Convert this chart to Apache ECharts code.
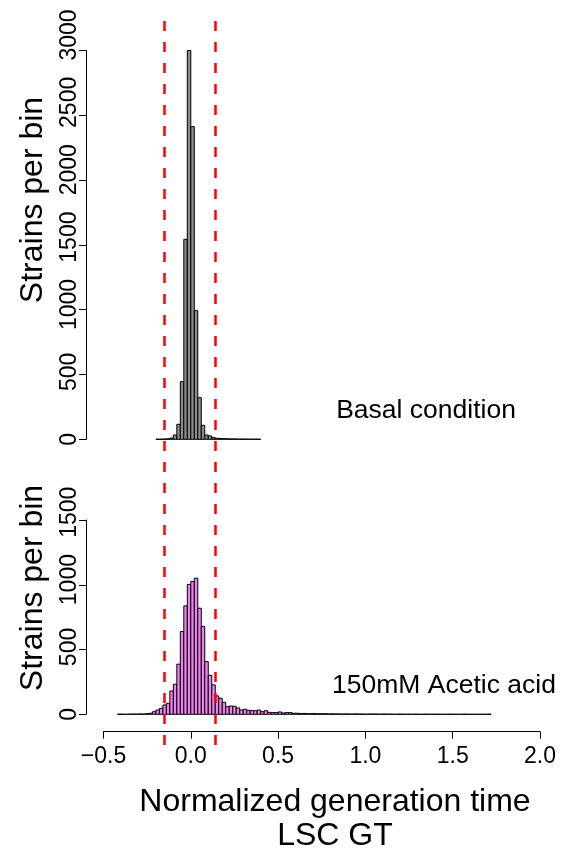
<!DOCTYPE html>
<html>
<head>
<meta charset="utf-8">
<script src="https://cdn.jsdelivr.net/npm/echarts@6/dist/echarts.min.js"></script>
<style>
  html, body { margin: 0; padding: 0; background: #fff; }
  #chart { width: 563px; height: 852px; }
</style>
</head>
<body>
<div id="chart"></div>
<script>
// Histogram bins: width 0.02 in normalized generation time
const binWidth = 0.02;

// Basal condition: bins start at -0.20
const basalStart = -0.20;
const basalCounts = [
  1, 1, 2, 4, 10, 33, 116, 445, 1543, 3000,
  2413, 993, 321, 108, 33, 26, 13, 8, 6, 5,
  4, 3, 3, 2, 2, 2, 1, 1, 1, 1
];

// 150mM acetic acid: bins start at -0.42
const aceticStart = -0.42;
const aceticCounts = [
  1, 1, 0, 1, 2, 1, 3, 2, 5, 8,
  20, 33, 46, 72, 85, 180, 232, 387, 639, 837,
  1002, 1025, 1051, 819, 678, 407, 301, 227, 142, 124,
  93, 59, 64, 62, 49, 33, 39, 31, 28, 28,
  33, 20, 28, 15, 13, 13, 18, 10, 13, 13,
  8, 8, 6, 7, 5, 5, 6, 4, 4, 5,
  3, 4, 3, 3, 2, 3, 2, 2, 3, 2,
  2, 1, 2, 2, 1, 1, 2, 1, 1, 0,
  1, 1, 0, 1, 0, 1, 0, 0, 1, 0,
  0, 1, 0, 0, 0, 1, 0, 0, 0, 1,
  0, 0, 0, 0, 0, 0, 1
];

// Cut-off thresholds (red dashed lines)
const thresholds = [-0.15, 0.14];

// Axis ticks
const xTicks = { min: -0.5, max: 2.0, interval: 0.5 };
const basalTicks = { min: 0, max: 3000, interval: 500 };
const aceticTicks = { min: 0, max: 1500, interval: 500 };

const panelLabels = ['Basal condition', '150mM Acetic acid'];
const yTitle = 'Strains per bin';
const xTitle = 'Normalized generation time\nLSC GT';

function toBins(start, counts) {
  return counts.map((c, i) => {
    const x0 = +(start + i * binWidth).toFixed(4);
    return [x0, +(x0 + binWidth).toFixed(4), c];
  });
}

function histRenderer(fill) {
  return function (params, api) {
    const top = api.coord([api.value(0), api.value(2)]);
    const bot = api.coord([api.value(1), 0]);
    return {
      type: 'rect',
      shape: { x: top[0], y: top[1], width: bot[0] - top[0], height: bot[1] - top[1] },
      style: { fill: fill, stroke: '#000', lineWidth: 1 }
    };
  };
}

const FONT = '"Liberation Sans", Arial, Helvetica, sans-serif';
const TICK_FONT = 23;
const gridLeft = 103.5, gridWidth = 436.5;
// tick labels of the y axes sit on a slightly stretched scale
const labelStretch = 1.04;

// panel geometry (pixels)
const topPanel = { top: 50.5, height: 388.8 };
const botPanel = { top: 520, height: 194.3 };
function stretched(p) {
  const h = p.height * labelStretch;
  return { left: gridLeft, width: gridWidth, top: p.top + p.height - h, height: h };
}

function yAxisFor(idx, ticks) {
  return {
    type: 'value', gridIndex: idx, position: 'left', min: ticks.min, max: ticks.max, interval: ticks.interval,
    offset: 17.5,
    axisLine: { show: true, onZero: false, lineStyle: { color: '#000', width: 1 } },
    axisTick: { show: true, length: 7, lineStyle: { color: '#000', width: 1 } },
    axisLabel: { show: false },
    splitLine: { show: false }
  };
}

function yLabelAxisFor(idx, ticks) {
  return {
    type: 'value', gridIndex: idx, position: 'left', min: ticks.min, max: ticks.max, interval: ticks.interval,
    offset: 17.5,
    axisLine: { show: false, onZero: false },
    axisTick: { show: false },
    axisLabel: { rotate: 90, margin: 5, color: '#000', fontSize: TICK_FONT, fontFamily: FONT,
                 formatter: v => String(v) },
    splitLine: { show: false }
  };
}

const fmtX = v => (v < 0 ? '\u2212' : '') + Math.abs(v).toFixed(1);
const hiddenX = idx => ({ type: 'value', gridIndex: idx, min: xTicks.min, max: xTicks.max, show: false });

const chart = echarts.init(document.getElementById('chart'), null, { renderer: 'canvas' });
chart.setOption({
  animation: false,
  backgroundColor: '#fff',
  grid: [
    { left: gridLeft, top: topPanel.top, width: gridWidth, height: topPanel.height },
    { left: gridLeft, top: botPanel.top, width: gridWidth, height: botPanel.height },
    { left: gridLeft, top: 21, width: gridWidth, height: 724 },
    stretched(topPanel),
    stretched(botPanel)
  ],
  xAxis: [
    hiddenX(0),
    {
      type: 'value', gridIndex: 1, position: 'bottom', min: xTicks.min, max: xTicks.max, interval: xTicks.interval,
      offset: 17.4,
      axisLine: { show: true, onZero: false, lineStyle: { color: '#000', width: 1 } },
      axisTick: { show: true, length: 7, lineStyle: { color: '#000', width: 1 } },
      axisLabel: { margin: 13, color: '#000', fontSize: TICK_FONT, fontFamily: FONT, formatter: fmtX },
      splitLine: { show: false }
    },
    hiddenX(2),
    hiddenX(3),
    hiddenX(4)
  ],
  yAxis: [
    yAxisFor(0, basalTicks),
    yAxisFor(1, aceticTicks),
    { type: 'value', gridIndex: 2, min: 0, max: 1, show: false },
    yLabelAxisFor(3, basalTicks),
    yLabelAxisFor(4, aceticTicks)
  ],
  series: [
    {
      type: 'custom', xAxisIndex: 0, yAxisIndex: 0,
      data: toBins(basalStart, basalCounts),
      encode: { x: [0, 1], y: 2 },
      renderItem: histRenderer('#8c8c8c'),
      silent: true
    },
    {
      type: 'custom', xAxisIndex: 1, yAxisIndex: 1,
      data: toBins(aceticStart, aceticCounts),
      encode: { x: [0, 1], y: 2 },
      renderItem: histRenderer('#ee82ee'),
      silent: true
    },
    {
      type: 'line', xAxisIndex: 2, yAxisIndex: 2, data: [], silent: true,
      markLine: {
        silent: true, symbol: 'none', label: { show: false },
        lineStyle: { color: '#ff0000', width: 2.5, type: [10, 11] },
        data: thresholds.map(t => ({ xAxis: t }))
      }
    }
  ],
  graphic: [
    { type: 'text', x: 33, y: 200, rotation: Math.PI / 2,
      style: { text: yTitle, fontSize: 32, fontFamily: FONT, fill: '#000', align: 'center', verticalAlign: 'middle' } },
    { type: 'text', x: 33, y: 588, rotation: Math.PI / 2,
      style: { text: yTitle, fontSize: 32, fontFamily: FONT, fill: '#000', align: 'center', verticalAlign: 'middle' } },
    { type: 'text', x: 335, y: 819,
      style: { text: xTitle, fontSize: 32, lineHeight: 34, fontFamily: FONT, fill: '#000', align: 'center', verticalAlign: 'middle' } },
    { type: 'text', x: 426, y: 411,
      style: { text: panelLabels[0], fontSize: 26.5, fontFamily: FONT, fill: '#000', align: 'center', verticalAlign: 'middle' } },
    { type: 'text', x: 444, y: 686,
      style: { text: panelLabels[1], fontSize: 26.5, fontFamily: FONT, fill: '#000', align: 'center', verticalAlign: 'middle' } }
  ]
});
</script>
</body>
</html>
